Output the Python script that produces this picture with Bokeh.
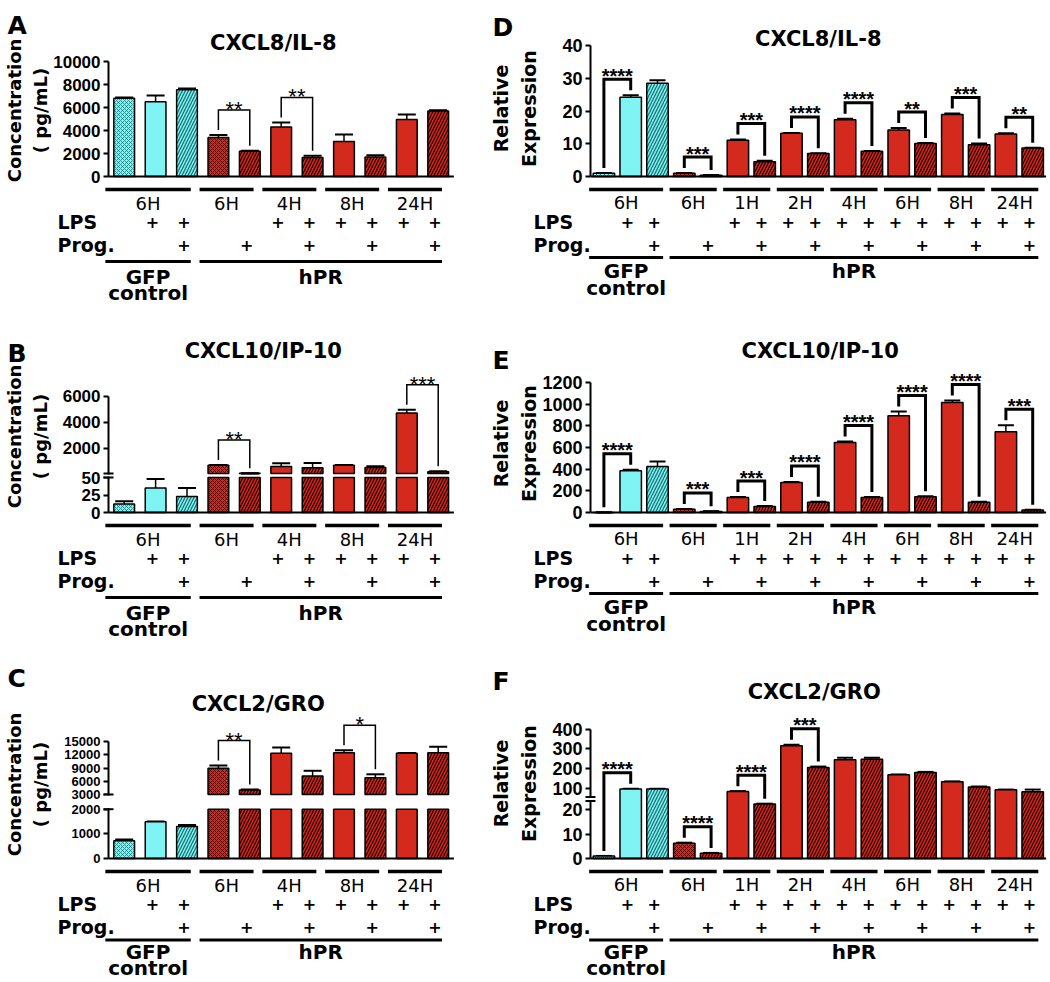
import numpy as np
from bokeh.plotting import figure
from bokeh.layouts import column, row
from bokeh.models import ColumnDataSource, Whisker, TeeHead, FixedTicker, Range1d, LinearAxis
from bokeh.core.properties import value
from bokeh.embed import file_html
from bokeh.resources import INLINE

FONT = "DejaVu Sans"
TICK_FONT = "Liberation Sans"
CYAN = "#80f4f4"
RED = "#d42a1e"

# ---------------- categories ----------------
left_times = ["6H", "6H", "4H", "8H", "24H"]
left_time_spans = [(0, 2), (3, 4), (5, 6), (7, 8), (9, 10)]
left_lps = [0, 1, 1, 0, 0, 1, 1, 1, 1, 1, 1]
left_prog = [0, 0, 1, 0, 1, 0, 1, 0, 1, 0, 1]

right_times = ["6H", "6H", "1H", "2H", "4H", "6H", "8H", "24H"]
right_time_spans = [(0, 2), (3, 4), (5, 6), (7, 8), (9, 10), (11, 12), (13, 14), (15, 16)]
right_lps = [0, 1, 1, 0, 0, 1, 1, 1, 1, 1, 1, 1, 1, 1, 1, 1, 1]
right_prog = [0, 0, 1, 0, 1, 0, 1, 0, 1, 0, 1, 0, 1, 0, 1, 0, 1]

cell_groups = ["GFP\ncontrol", "hPR"]
n_gfp = 3

# ---------------- panel A: CXCL8/IL-8 (pg/mL) ----------------
a_values = [6800, 6500, 7550, 3400, 2200, 4300, 1650, 3050, 1700, 4950, 5700]
a_errors = [60, 550, 100, 200, 50, 400, 150, 600, 150, 450, 60]
a_sig = [(3, 4, "**"), (5, 6, "**")]
a_ticks = [0, 2000, 4000, 6000, 8000, 10000]

# ---------------- panel B: CXCL10/IP-10 (pg/mL) ----------------
b_values = [12, 35, 23, 690, 60, 590, 500, 690, 510, 4700, 180]
b_errors = [4, 13, 12, 20, 5, 250, 350, 20, 100, 250, 50]
b_sig = [(3, 4, "**"), (9, 10, "***")]
b_ticks = [0, 25, 50, 2000, 4000, 6000]

# ---------------- panel C: CXCL2/GRO (pg/mL) ----------------
c_values = [720, 1490, 1300, 9000, 4000, 12400, 7200, 12500, 6800, 12400, 12500]
c_errors = [50, 15, 60, 600, 150, 1300, 1200, 600, 800, 50, 1400]
c_sig = [(3, 4, "**"), (7, 8, "*")]
c_ticks = [0, 1000, 2000, 3000, 6000, 9000, 12000, 15000]

# ---------------- panel D: CXCL8/IL-8 relative expression ----------------
d_values = [1.0, 24.2, 28.5, 1.0, 0.4, 11.1, 4.5, 13.2, 7.0, 17.3, 7.7, 14.2, 10.1, 18.9, 9.7, 13.0, 8.7]
d_errors = [0.05, 0.6, 0.9, 0.05, 0.05, 0.2, 0.3, 0.1, 0.1, 0.3, 0.1, 0.6, 0.1, 0.3, 0.4, 0.2, 0.1]
d_sig = [(0, 1, "****"), (3, 4, "***"), (5, 6, "***"), (7, 8, "****"),
         (9, 10, "****"), (11, 12, "**"), (13, 14, "***"), (15, 16, "**")]
d_ticks = [0, 10, 20, 30, 40]

# ---------------- panel E: CXCL10/IP-10 relative expression ----------------
e_values = [1, 385, 425, 30, 10, 138, 55, 277, 95, 646, 138, 892, 145, 1015, 95, 745, 22]
e_errors = [1, 10, 45, 3, 2, 5, 5, 5, 5, 10, 5, 40, 5, 20, 5, 60, 3]
e_sig = [(0, 1, "****"), (3, 4, "***"), (5, 6, "***"), (7, 8, "****"),
         (9, 10, "****"), (11, 12, "****"), (13, 14, "****"), (15, 16, "***")]
e_ticks = [0, 200, 400, 600, 800, 1000, 1200]

# ---------------- panel F: CXCL2/GRO relative expression ----------------
f_values = [1.0, 98, 98, 6.3, 2.2, 89, 42, 316, 206, 245, 248, 169, 181, 134, 108, 95, 88]
f_errors = [0.05, 1, 1, 0.2, 0.1, 1, 1, 5, 5, 10, 8, 2, 3, 2, 2, 1, 8]
f_sig = [(0, 1, "****"), (3, 4, "****"), (5, 6, "****"), (7, 8, "***")]
f_ticks = [0, 10, 20, 100, 200, 300, 400]


def seg_tf(segs):
    def tf(v):
        for (v0, v1, d0, d1) in segs:
            if v <= v1:
                return d0 + (v - v0) * (d1 - d0) / (v1 - v0)
        v0, v1, d0, d1 = segs[-1]
        return d0 + (v - v0) * (d1 - d0) / (v1 - v0)
    return tf


LEFT = dict(W=490, axis_px=108, ppu=31.4, bar_w=0.66, cap=18, label_px=(13.5, 39.5),
            rowlab_px=57, letter_px=7, br_off=25, br_lw=1.5, star_style="normal", star_up=0.5,
            star_fs="22px", tdx=-0.1, l0=-0.5, l1=0.22, tick_y=-27, bottom_y=-85, gfp_y=-100,
            ctrl_y=-116)
RIGHT = dict(W=558, axis_px=100, ppu=26.8, bar_w=0.8, cap=16, label_px=(10, 38),
             rowlab_px=43, letter_px=2, br_off=16, br_lw=3, star_style="bold", star_up=3.5,
             star_fs="20px", tdx=-0.12, l0=-0.43, l1=0.33, tick_y=-26, bottom_y=-81, gfp_y=-94,
             ctrl_y=-111)
ROWS = [dict(H=304, base=176), dict(H=336, base=208),
        dict(H=340, base=218, bottom_y=-81.5, gfp_y=-93.5, ctrl_y=-109.5)]


def txt(p, x, y, t, size, style="normal", align="center", baseline="middle", font=FONT, **kw):
    p.text(x=x, y=y, text=t, text_font=value(font), text_font_size=size,
           text_font_style=style, text_align=align, text_baseline=baseline,
           text_color="black", **kw)


def build(letter, title, ylabel, values, errors, sig, ticks, segs, gap, brk,
          times, spans, lps, prog, S, R, tick_fs, label_fs, label_dy,
          title_dy, letter_dy, title_dx):
    S = dict(S)
    S.update({k: v for k, v in R.items() if k not in ("H", "base")})
    W, H, base = S["W"], R["H"], R["base"]
    ppu = S["ppu"]
    xs = -0.5 - S["axis_px"] / ppu
    xe = xs + W / ppu
    n = len(values)
    tf = seg_tf(segs)

    def px(q):
        return xs + q / ppu

    p = figure(width=W, height=H, x_range=Range1d(xs, xe), y_range=Range1d(-(H - base), base),
               x_axis_location=None, y_axis_location=None, toolbar_location=None,
               output_backend="svg", title=None, min_border=0, outline_line_color=None)
    p.min_border_left = p.min_border_right = p.min_border_top = p.min_border_bottom = 0
    p.grid.visible = False

    # bars
    bx, bb, bt, bf, bh, bc, bs, bw = [], [], [], [], [], [], [], []
    for i, v in enumerate(values):
        g = i < n_gfp
        fill = CYAN if g else RED
        if prog[i]:
            hp, hs, hw = "/", 6, 1.3
        elif not lps[i]:
            hp, hs, hw = "x", 4, 0.8
        else:
            hp, hs, hw = " ", 6, 1.0
        hc = "#1d7373" if g else "#2a0000"
        pieces = []
        if gap:
            for k, (v0, v1, d0, d1) in enumerate(segs):
                if k == 0 or v > v0:
                    last = k == len(segs) - 1
                    pieces.append((d0, tf(v if last else min(v, v1))))
        else:
            pieces.append((0, tf(v)))
        for (lo, hi) in pieces:
            bx.append(i); bb.append(lo); bt.append(hi)
            bf.append(fill); bh.append(hp); bc.append(hc); bs.append(hs); bw.append(hw)
    src = ColumnDataSource(dict(x=bx, bottom=bb, top=bt, fill=bf, hatch=bh, hcol=bc,
                                hscale=bs, hweight=bw))
    p.vbar(x="x", bottom="bottom", top="top", width=S["bar_w"], source=src,
           fill_color="fill", line_color="black", line_width=1.5,
           hatch_pattern="hatch", hatch_color="hcol", hatch_scale="hscale", hatch_weight="hweight")

    # error bars
    wsrc = ColumnDataSource(dict(x=list(range(n)),
                                 lo=[tf(v - e) for v, e in zip(values, errors)],
                                 hi=[tf(v + e) for v, e in zip(values, errors)]))
    p.add_layout(Whisker(base="x", lower="lo", upper="hi", source=wsrc, dimension="height",
                         line_width=1.5, line_color="black",
                         upper_head=TeeHead(size=S["cap"], line_width=2, line_color="black"),
                         lower_head=TeeHead(size=S["cap"], line_width=2, line_color="black")))

    # baseline (x axis line)
    p.segment(x0=[-0.5], y0=[0], x1=[n - 0.5], y1=[0], line_color="black", line_width=2)

    # y axis
    tick_pos = [tf(t) for t in ticks]
    ax = LinearAxis(ticker=FixedTicker(ticks=tick_pos), fixed_location=-0.5,
                    bounds=(0, tick_pos[-1]))
    ax.major_label_overrides = {pos: str(t) for pos, t in zip(tick_pos, ticks)}
    ax.axis_line_width = 2
    ax.axis_line_color = "black"
    ax.major_tick_line_width = 2
    ax.major_tick_line_color = "black"
    ax.major_tick_out = 5
    ax.major_tick_in = 0
    ax.minor_tick_line_color = None
    ax.major_label_standoff = 3
    ax.major_label_text_font = TICK_FONT
    ax.major_label_text_font_style = "bold"
    ax.major_label_text_font_size = tick_fs
    ax.major_label_text_color = "black"
    p.add_layout(ax, "left")

    # axis break marks
    if brk is not None:
        b0, b1 = brk
        p.quad(left=[px(S["axis_px"] - 4)], right=[px(S["axis_px"] + 4)],
               bottom=[b0 + 1], top=[b1 - 1], fill_color="white", line_color=None, level="overlay")
        p.segment(x0=[px(S["axis_px"] - 5)] * 2, x1=[px(S["axis_px"] + 5)] * 2,
                  y0=[b0, b1], y1=[b0, b1], line_color="black", line_width=2, level="overlay")

    # significance brackets
    bxs, bys, sx, sy, st = [], [], [], [], []
    for (i, j, lab) in sig:
        ti = tf(values[i] + errors[i])
        tj = tf(values[j] + errors[j])
        h = max(ti, tj) + S["br_off"]
        bxs.append([i, i, j, j])
        bys.append([ti + 5, h, h, tj + 5])
        sx.append((i + j) / 2)
        sy.append(h + S["star_up"])
        st.append(lab)
    p.multi_line(xs=bxs, ys=bys, line_color="black", line_width=S["br_lw"], line_join="miter")
    txt(p, sx, sy, st, S["star_fs"], S["star_style"], baseline="alphabetic", font=TICK_FONT)

    # table below the axis
    dx = S["tdx"]
    gx0 = [a + S["l0"] + dx for a, b in spans]
    gx1 = [b + S["l1"] + dx for a, b in spans]
    p.segment(x0=gx0, x1=gx1, y0=[-13] * len(spans), y1=[-13] * len(spans),
              line_color="black", line_width=3.5)
    txt(p, [(a + b) / 2 for a, b in zip(gx0, gx1)], [S["tick_y"]] * len(spans), times, "18px")
    lx = [i + dx for i in range(n) if lps[i]]
    txt(p, lx, [-45] * len(lx), ["+"] * len(lx), "16px", "bold")
    qx = [i + dx for i in range(n) if prog[i]]
    txt(p, qx, [-68] * len(qx), ["+"] * len(qx), "16px", "bold")
    txt(p, [px(S["rowlab_px"])] * 2, [-45, -68], ["LPS", "Prog."], "19px", "bold", align="left")
    cspans = [(0, n_gfp - 1), (n_gfp, n - 1)]
    cx0 = [a + S["l0"] + dx for a, b in cspans]
    cx1 = [b + S["l1"] + dx for a, b in cspans]
    p.segment(x0=cx0, x1=cx1, y0=[S["bottom_y"]] * 2, y1=[S["bottom_y"]] * 2,
              line_color="black", line_width=3)
    ccx = [(a + b) / 2 for a, b in zip(cx0, cx1)]
    lines1 = [g.split("\n")[0] for g in cell_groups]
    txt(p, ccx, [S["gfp_y"]] * 2, lines1, "20px", "bold")
    extra = [(c, g.split("\n")[1]) for c, g in zip(ccx, cell_groups) if "\n" in g]
    txt(p, [c for c, _ in extra], [S["ctrl_y"]] * len(extra), [t for _, t in extra], "20px", "bold")

    # y label (two lines, rotated), title, panel letter
    ylines = ylabel.split("\n")
    txt(p, [px(q) for q in S["label_px"][:len(ylines)]], [label_dy] * len(ylines), ylines,
        label_fs, "bold", angle=np.pi / 2)
    txt(p, [(n - 1) / 2 + title_dx], [title_dy], [title], "21px", "bold")
    txt(p, [px(S["letter_px"])], [letter_dy], [letter], "25px", "bold", align="left",
        baseline="alphabetic")
    return p


pA = build("A", "CXCL8/IL-8", "Concentration\n( pg/mL)", a_values, a_errors, a_sig, a_ticks,
           [(0, 10000, 0, 115)], False, None, left_times, left_time_spans, left_lps, left_prog,
           LEFT, ROWS[0], "17px", "18px", 66, 134, 151.5, -0.25)
pB = build("B", "CXCL10/IP-10", "Concentration\n( pg/mL)", b_values, b_errors, b_sig, b_ticks,
           [(0, 50, 0, 35), (50, 6000, 39, 116.35)], True, (35, 39), left_times, left_time_spans,
           left_lps, left_prog, LEFT, ROWS[1], "17px", "18px", 76, 162, 159, -0.57)
pC = build("C", "CXCL2/GRO", "Concentration\n( pg/mL)", c_values, c_errors, c_sig, c_ticks,
           [(0, 2000, 0, 49.3), (3000, 15000, 64, 116.7)], True, (49.3, 64), left_times,
           left_time_spans, left_lps, left_prog, LEFT, ROWS[2], "13px", "18px", 74, 155, 180, -0.73)
pD = build("D", "CXCL8/IL-8", "Relative\nExpression", d_values, d_errors, d_sig, d_ticks,
           [(0, 40, 0, 131)], False, None, right_times, right_time_spans, right_lps, right_prog,
           RIGHT, ROWS[0], "18px", "19px", 68, 138, 149, 0.0)
pE = build("E", "CXCL10/IP-10", "Relative\nExpression", e_values, e_errors, e_sig, e_ticks,
           [(0, 1200, 0, 130)], False, None, right_times, right_time_spans, right_lps, right_prog,
           RIGHT, ROWS[1], "18px", "19px", 69, 162, 152, 0.07)
pF = build("F", "CXCL2/GRO", "Relative\nExpression", f_values, f_errors, f_sig, f_ticks,
           [(0, 20, 0, 48.7), (20, 100, 48.7, 70), (100, 400, 70, 129.3)], False, (57.5, 61.5),
           right_times, right_time_spans, right_lps, right_prog, RIGHT, ROWS[2], "18px", "19px",
           75, 167, 177, -0.15)

layout = column(row(pA, pD), row(pB, pE), row(pC, pF))
open("out.html", "w").write(file_html(layout, INLINE))
